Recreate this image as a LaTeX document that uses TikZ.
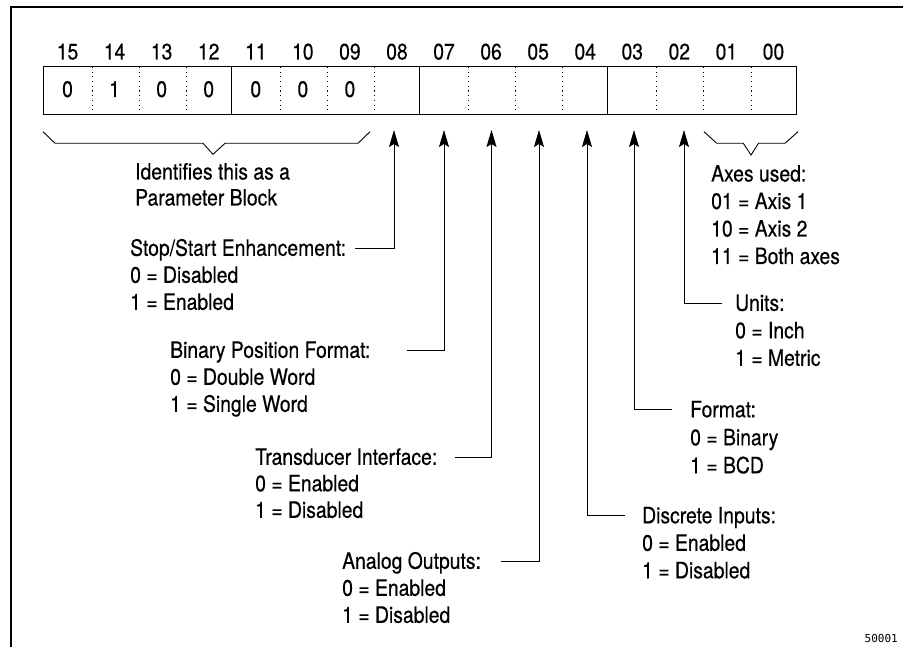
\documentclass[tikz,border=0pt]{standalone}
\usepackage{fontspec}
\setmainfont{TeX Gyre Heros}[FakeStretch=0.86,FakeBold=0.35]
\newfontfamily\figfont{DejaVu Sans Mono}
\usetikzlibrary{arrows.meta}
\begin{document}
\begin{tikzpicture}[x=1pt,y=-1pt,
  every node/.style={inner sep=0pt, font=\fontsize{22.5}{27}\selectfont},
  txt/.style={anchor=base west},
  num/.style={anchor=base},
  rule/.style={line width=0.9pt},
  sep/.style={line width=0.8pt, dash pattern=on 1.1pt off 3.6pt},
  pointer/.style={line width=0.9pt, -{Stealth[length=17pt,width=10pt,inset=3pt]}},
  pointerback/.style={line width=0.9pt, {Stealth[length=17pt,width=10pt,inset=3pt]}-},
  brace/.style={line width=0.9pt}]
\useasboundingbox (0,0) rectangle (903,647);

% page frame (top and left edges)
\draw[line width=1.1pt] (11,647) -- (11,7) -- (903,7);

% word layout: 16 cells
\def\cw{47.0625}
\foreach \lab [count=\k from 0] in {15,14,13,12,11,10,09,08,07,06,05,04,03,02,01,00}
  \node[num, name=b\lab] at ({43+(\k+0.5)*\cw+1}, 59.5) {\lab};
\foreach \v [count=\k from 0] in {0,1,0,0,0,0,0}
  \node[num, name=v\k] at ({43+(\k+0.5)*\cw+1}, 97) {\v};

\draw[rule] (43,66) rectangle (796,114);
\foreach \k in {4,8,12}
  \draw[rule] ({43+\k*\cw},66) -- ({43+\k*\cw},114);
\foreach \k in {1,2,3,5,6,7,9,10,11,13,14,15}
  \draw[sep] ({45+\k*\cw},67) -- ({45+\k*\cw},114);

% braces
\draw[brace] (43,131.7) -- (55,143.3) -- (203,143.3) -- (213,154.3)
  -- (225,143.3) -- (358,143.3) -- (370,131.7);
\draw[brace] (704,131.7) -- (716.7,143.3) -- (743.3,143.3) -- (751,155)
  -- (758.5,143.3) -- (785,143.3) -- (798,131.7);

\node[txt] (id1) at (135,179.5) {Identifies this as a};
\node[txt] (id2) at (135,205.5) {Parameter Block};

\node[txt] (ax1) at (711,181.5) {Axes used:};
\node[txt] (ax2) at (711,209) {01 = Axis 1};
\node[txt] (ax3) at (711,236.5) {10 = Axis 2};
\node[txt] (ax4) at (711,264) {11 = Both axes};

% pointer tips under the cells
\coordinate (p08) at (394,130);
\coordinate (p07) at (444,130);
\coordinate (p06) at (491.5,130);
\coordinate (p05) at (539,130);
\coordinate (p04) at (587,130);
\coordinate (p03) at (634,130);
\coordinate (p02) at (684,130);

% leader ends beside the labels
\coordinate (s08) at (355,248);
\coordinate (s07) at (407,350);
\coordinate (s06) at (455,457);
\coordinate (s05) at (501,561);
\coordinate (s04) at (625,515.5);
\coordinate (s03) at (672,409);
\coordinate (s02) at (722,303);

% left labels
\node[txt] (st1) at (130,255.8) {Stop/Start Enhancement:};
\node[txt] (st2) at (130,282.8) {0 = Disabled};
\node[txt] (st3) at (130,309.8) {1 = Enabled};

\node[txt] (bp1) at (170,357.8) {Binary Position Format:};
\node[txt] (bp2) at (170,384.8) {0 = Double Word};
\node[txt] (bp3) at (170,411.8) {1 = Single Word};

\node[txt] (tr1) at (255,464.8) {Transducer Interface:};
\node[txt] (tr2) at (255,491.3) {0 = Enabled};
\node[txt] (tr3) at (255,517.8) {1 = Disabled};

\node[txt] (an1) at (342,568.8) {Analog Outputs:};
\node[txt] (an2) at (342,595.8) {0 = Enabled};
\node[txt] (an3) at (342,622.8) {1 = Disabled};

% right labels
\node[txt] (un1) at (735,310.8) {Units:};
\node[txt] (un2) at (735,338.3) {0 = Inch};
\node[txt] (un3) at (735,365.8) {1 = Metric};

\node[txt] (fm1) at (690,417.3) {Format:};
\node[txt] (fm2) at (690,445.3) {0 = Binary};
\node[txt] (fm3) at (690,473.3) {1 = BCD};

\node[txt] (di1) at (642,523.3) {Discrete Inputs:};
\node[txt] (di2) at (642,550.8) {0 = Enabled};
\node[txt] (di3) at (642,578.3) {1 = Disabled};

% pointers
\draw[pointer] (s08) -| (p08);
\draw[pointer] (s07) -| (p07);
\draw[pointer] (s06) -| (p06);
\draw[pointer] (s05) -| (p05);
\draw[pointerback] (p04) |- (s04);
\draw[pointerback] (p03) |- (s03);
\draw[pointerback] (p02) |- (s02);

\node[anchor=base east, font=\figfont\fontsize{11}{13}\selectfont] (fig) at (898,642) {50001};
\end{tikzpicture}
\end{document}
